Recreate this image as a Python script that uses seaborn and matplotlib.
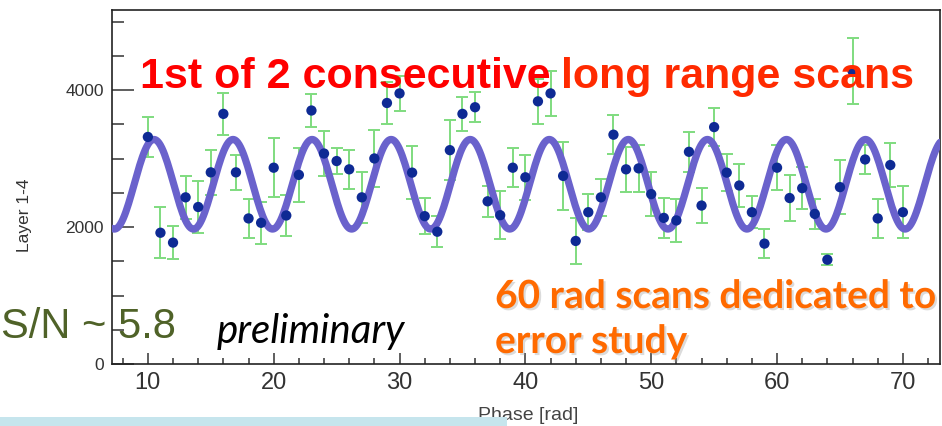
import numpy as np
import pandas as pd
import matplotlib
matplotlib.use("Agg")
import matplotlib.pyplot as plt
import matplotlib.patheffects as pe
from matplotlib.patches import Rectangle
from matplotlib.ticker import MultipleLocator
import seaborn as sns

# ---- data ----
phase = list(range(10, 71))
counts = [3316, 1917, 1773, 2434, 2293, 2799, 3653, 2799, 2126, 2062,
          2867, 2169, 2762, 3702, 3074, 2964, 2843, 2434, 3002, 3812,
          3952, 2795, 2159, 1932, 3123, 3653, 3750, 2376, 2173, 2867,
          2727, 3836, 3952, 2747, 1797, 2217, 2434, 3349, 2843, 2857,
          2481, 2134, 2097, 3099, 2314, 3460, 2795, 2607, 2217, 1758,
          2867, 2424, 2568, 2192, 1523, 2583, 4280, 2987, 2126, 2906,
          2217]
errors = [289, 376, 246, 318, 376, 333, 304, 253, 289, 304,
          434, 304, 390, 246, 333, 188, 289, 376, 419, 304,
          260, 390, 260, 224, 434, 246, 217, 224, 347, 289,
          325, 325, 333, 492, 333, 260, 275, 289, 325, 347,
          325, 289, 314, 289, 253, 275, 275, 311, 231, 210,
          325, 340, 311, 217, 80, 390, 477, 217, 289, 325,
          376]

# fit curve parameters (offset + amplitude * cos(phase - phase0))
fit_offset = 2625
fit_amplitude = 655
fit_phase0 = 4.2

x_limits = (7.15, 72.95)
y_limits = (0, 5170)
y_tick_values = [0, 2000, 4000]
x_tick_values = [10, 20, 30, 40, 50, 60, 70]

df = pd.DataFrame({"phase": phase, "counts": counts, "err": errors})
fit_x = np.linspace(x_limits[0], x_limits[1], 600)
fit_df = pd.DataFrame({"phase": fit_x,
                       "fit": fit_offset + fit_amplitude * np.cos(fit_x - fit_phase0)})

sns.set_theme(style="white")
plt.rcParams["font.family"] = ["Liberation Sans", "DejaVu Sans"]

fig = plt.figure(figsize=(9.42, 4.26), dpi=100)
ax = fig.add_axes([112 / 942, (426 - 364) / 426, (940 - 112) / 942, (364 - 10) / 426])

ax.errorbar(df["phase"], df["counts"], yerr=df["err"], fmt="none",
            ecolor="#7fdc7f", elinewidth=1.4, capsize=4.5, capthick=1.4, zorder=2)
sns.lineplot(data=fit_df, x="phase", y="fit", ax=ax, color="#6a62cc",
             linewidth=5.2, zorder=3, legend=False)
sns.scatterplot(data=df, x="phase", y="counts", ax=ax, color="#0e2a94",
                s=55, edgecolor="none", zorder=4, legend=False)

ax.set_xlim(*x_limits)
ax.set_ylim(*y_limits)
ax.set_xticks(x_tick_values)
ax.set_yticks(y_tick_values)
ax.xaxis.set_minor_locator(MultipleLocator(2))
ax.yaxis.set_minor_locator(MultipleLocator(500))
ax.tick_params(axis="both", which="both", direction="in", color="#333333",
               top=False, right=False, left=True, bottom=True)
ax.tick_params(axis="y", which="major", length=16, width=1.1, labelsize=12.5,
               labelcolor="#333333", pad=6)
ax.tick_params(axis="y", which="minor", length=8.5, width=1.1)
ax.tick_params(axis="x", which="major", length=8, width=1.1, labelsize=17,
               labelcolor="#333333", pad=6)
ax.tick_params(axis="x", which="minor", length=4.5, width=1.1)
for s in ax.spines.values():
    s.set_color("#222222")
    s.set_linewidth(1.2)

ax.set_xlabel("")
ax.set_ylabel("")
fig.text(25 / 942, 1 - 215 / 426, "Layer 1-4", rotation=90, ha="center", va="center",
         fontsize=12.5, color="#333333")
fig.text(528 / 942, 1 - 420 / 426, "Phase [rad]", ha="center", va="baseline",
         fontsize=14, color="#444444")

# annotations
t1 = fig.text(140 / 942, 1 - 88 / 426, "1st of 2 consecutive",
              ha="left", va="baseline", fontsize=31, fontweight="bold", color="#ff0000",
              zorder=10)
fig.canvas.draw()
bb = t1.get_window_extent(renderer=fig.canvas.get_renderer())
fig.text((bb.x1 + 10) / 942, 1 - 88 / 426, "long range scans",
         ha="left", va="baseline", fontsize=31, fontweight="bold", color="#ff2a00",
         zorder=10)

fig.text(1 / 942, 1 - 338 / 426, "S/N ~ 5.8", ha="left", va="baseline",
         fontsize=30, color="#4f6228", zorder=10)
fig.text(217 / 942, 1 - 343 / 426, "preliminary", ha="left", va="baseline",
         fontsize=29, style="italic", color="black", family=["Lato", "DejaVu Sans"],
         zorder=10)
shadow = [pe.withSimplePatchShadow(offset=(1.5, -1.5), shadow_rgbFace="#999999", alpha=0.35)]
fig.text(495 / 942, 1 - 308 / 426, "60 rad scans dedicated to", ha="left", va="baseline",
         fontsize=28, fontweight="bold", color="#ff6a00", family=["Lato", "DejaVu Sans"],
         path_effects=shadow, zorder=10)
fig.text(495 / 942, 1 - 353 / 426, "error study", ha="left", va="baseline",
         fontsize=28, fontweight="bold", color="#ff6a00", family=["Lato", "DejaVu Sans"],
         path_effects=shadow, zorder=10)

fig.patches.append(Rectangle((0, 0), 507 / 942, 9 / 426, transform=fig.transFigure,
                             facecolor="#c6e5ed", edgecolor="none", zorder=20))

fig.savefig("out.png", dpi=100)
